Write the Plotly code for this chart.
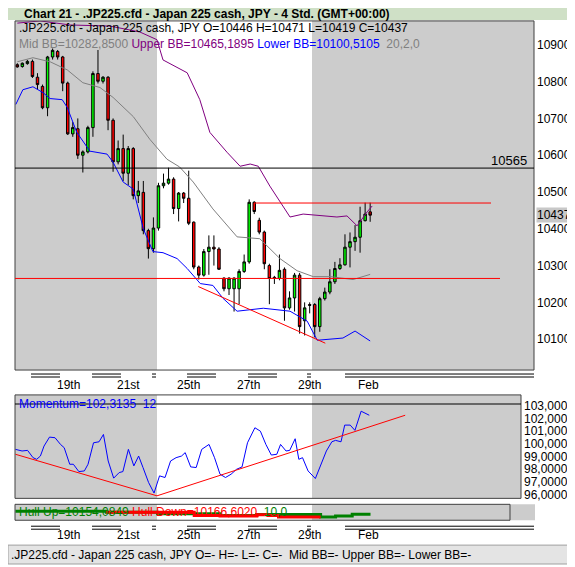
import plotly.graph_objects as go

W, H = 575, 567
OFF = 8  # page body margin
FW, FH = W - OFF, H - OFF
FONT = "Liberation Sans"

# ---------------- data ----------------
open_ = [10846,10841,10849,10855,10812,10787,10729,10867,10882,10867,10796,10658,10672,10600,10609,10675,10822,10801,10812,10695,
         10582,10618,10551,10618,10490,10499,10395,10346,10402,10517,10524,10535,10455,10497,10483,10418,10296,10274,10338,10350,
         10345,10266,10237,10237,10237,10284,10310,10472,10423,10391,10300,10268,10265,10290,10185,10212,10274,10150,10194,10194,
         10134,10210,10228,10256,10292,10302,10350,10365,10377,10422,10446]
high = [10850,10852,10859,10860,10823,10792,10870,10890,10886,10870,10800,10690,10700,10613,10680,10828,10886,10815,10815,10700,
        10640,10656,10625,10622,10530,10530,10400,10431,10525,10550,10566,10540,10500,10500,10558,10420,10300,10345,10382,10382,
        10350,10268,10268,10268,10290,10330,10480,10475,10430,10395,10305,10272,10330,10295,10230,10280,10280,10200,10200,10198,
        10215,10240,10290,10310,10320,10385,10390,10410,10460,10471,10471]
low = [10838,10838,10846,10810,10778,10725,10706,10860,10860,10774,10655,10650,10590,10553,10605,10650,10795,10795,10668,10555,
       10575,10530,10519,10480,10470,10385,10319,10335,10395,10510,10520,10440,10420,10470,10410,10290,10262,10270,10275,10300,
       10288,10230,10220,10175,10195,10280,10305,10440,10385,10290,10195,10250,10260,10150,10180,10175,10115,10110,10170,10105,
       10120,10205,10222,10250,10288,10300,10295,10340,10335,10420,10419]
close = [10840,10850,10855,10814,10792,10729,10867,10885,10867,10796,10658,10675,10600,10609,10675,10822,10801,10812,10695,10582,
         10618,10551,10618,10490,10503,10395,10346,10402,10517,10524,10535,10455,10497,10483,10415,10296,10274,10338,10350,10345,
         10290,10237,10266,10266,10284,10310,10472,10447,10391,10305,10265,10265,10287,10185,10212,10274,10134,10185,10192,10134,
         10210,10228,10256,10292,10302,10350,10365,10377,10422,10440,10437]
idx = list(range(len(close)))

upper_x = [0,4.5,10.5,18.4,24.3,27.7,28.9,33.7,36.2,38.2,41.6,44.2,46.2,47.8,50.1,52.1,54.1,56.7,63.4,65.4,67.4,69.4,70.4]
upper_y = [10959,10965,10954,10951,10935,10914,10859,10824,10751,10662,10608,10570,10576,10570,10516,10473,10432,10440,10432,10435,10408,10446,10462]
mid_x = [0,3.1,6.5,9.9,13,16.4,19,23,26.3,29.7,32.2,34.9,38.8,43.6,48.1,52.1,55.5,58.7,62.1,66.6,70]
mid_y = [10854,10865,10854,10832,10797,10784,10757,10705,10643,10589,10568,10527,10454,10378,10373,10319,10286,10270,10270,10262,10276]
lower_x = [-0.3,1.1,3.1,5.1,6.5,8.9,9.9,11.8,14.4,17.8,19,21,23,25,26.9,28.9,31.7,33.7,36.3,38.8,40.8,43.6,48.8,52.1,54.1,57.5,59.5,64.6,67,70]
lower_y = [10738,10778,10786,10770,10754,10751,10730,10662,10611,10603,10581,10527,10508,10400,10338,10335,10319,10292,10251,10246,10211,10176,10184,10178,10176,10149,10097,10103,10122,10095]

mom_x = [-0.37,0.94,2.03,3.12,3.84,4.58,5.30,6.39,7.48,8.57,9.30,10.40,11.12,12.21,13.30,14.03,15.12,16.22,17.09,18.03,19.12,20.21,20.95,
         22.04,23.12,24.07,24.94,26.04,27.13,28.22,29.31,30.41,31.50,32.58,33.31,34.40,35.49,36.59,38.04,39.13,40.22,41.31,42.41,43.50,
         44.59,45.67,47.14,48.23,49.32,50.40,51.49,52.23,53.32,54.05,55.13,55.86,56.59,57.69,59.14,60.23,61.32,62.41,63.14,64.23,64.96,
         66.05,66.99,68.22,69.83]
mom_y = [99.56,99.43,99.48,98.90,98.77,99.03,99.82,100.53,100.48,99.95,99.69,98.38,98.38,97.80,97.85,98.38,100.08,100.16,100.74,98.64,
         97.28,97.72,97.80,99.56,98.25,99.03,98.12,96.94,96.10,97.46,97.33,98.64,98.90,99.03,99.30,98.17,98.12,99.56,99.95,98.90,97.59,
         97.33,97.59,97.98,98.17,100.08,101.27,101.00,99.95,99.11,99.17,99.95,99.43,99.48,100.40,98.77,98.90,97.85,97.25,98.38,99.43,
         100.16,100.27,100.16,101.48,101.48,101.06,102.58,102.26]
mom_trend_x = [-0.37, 27.71, 76.96]
mom_trend_y = [99.17, 95.88, 102.26]

hull_up_x = [-0.37,17.67,27.84,40.22,47.53,60.18,63.15,66.45,70.08]
hull_up_y = [10176,10170,10160,10150,10156,10140,10146,10158,10158]
hull_dn_x = [17.67,35.1,40.22,47.53,49.73,51.82,60.18]
hull_dn_y = [10170,10150,10146,10154,10150,10140,10140]

res_level = 10565
support_level = 10265
top_level = 10470
last_close = 10437
trend_x = [35.9, 61.1]
trend_y = [10243, 10089]

price_ticks = [10100,10200,10300,10400,10500,10600,10700,10800,10900]
mom_ticks = [96,97,98,99,100,101,102,103]
date_pos = [10.1, 22.0, 34.0, 45.9, 58.0, 69.6]
date_lab = ["19th", "21st", "25th", "27th", "29th", "Feb"]

# ---------------- geometry helpers (screen pixels -> paper) ----------------
def px(x): return (x - OFF) / FW
def py(y): return 1 - (y - OFF) / FH

XMIN, XMAX = -0.46, 102.5
fig = go.Figure()

fig.add_trace(go.Candlestick(x=idx, open=open_, high=high, low=low, close=close,
    increasing=dict(fillcolor="#00ff00", line=dict(color="black", width=1)),
    decreasing=dict(fillcolor="#ff0000", line=dict(color="black", width=1)),
    whiskerwidth=0, xaxis="x", yaxis="y", showlegend=False, hoverinfo="skip"))
fig.add_trace(go.Scatter(x=upper_x, y=upper_y, mode="lines", line=dict(color="#800080", width=1), xaxis="x", yaxis="y"))
fig.add_trace(go.Scatter(x=mid_x, y=mid_y, mode="lines", line=dict(color="#808080", width=1), xaxis="x", yaxis="y"))
fig.add_trace(go.Scatter(x=lower_x, y=lower_y, mode="lines", line=dict(color="#0000ff", width=1), xaxis="x", yaxis="y"))
fig.add_trace(go.Scatter(x=trend_x, y=trend_y, mode="lines", line=dict(color="#ff0000", width=1), xaxis="x", yaxis="y"))

fig.add_trace(go.Scatter(x=mom_x, y=mom_y, mode="lines", line=dict(color="#0000ff", width=1), xaxis="x2", yaxis="y2"))
fig.add_trace(go.Scatter(x=mom_trend_x, y=mom_trend_y, mode="lines", line=dict(color="#ff0000", width=1), xaxis="x2", yaxis="y2"))

fig.add_trace(go.Scatter(x=hull_up_x, y=hull_up_y, mode="lines", line=dict(color="#008000", width=3, shape="hv"), xaxis="x3", yaxis="y3"))
fig.add_trace(go.Scatter(x=hull_dn_x, y=hull_dn_y, mode="lines", line=dict(color="#ff0000", width=3, shape="hv"), xaxis="x3", yaxis="y3"))

XD = [px(15), px(534)]
MXMAX = (521 - 17.3) / 5.04
HXMAX = (510 - 17.3) / 5.04
fig.update_layout(
    width=FW, height=FH, margin=dict(l=0, r=0, t=0, b=0),
    paper_bgcolor="white", plot_bgcolor="rgba(0,0,0,0)", showlegend=False,
    font=dict(family=FONT, size=12, color="black"),
    xaxis=dict(domain=XD, range=[XMIN, XMAX], showgrid=False, zeroline=False, showticklabels=False,
               rangeslider=dict(visible=False), anchor="y"),
    yaxis=dict(domain=[py(372), py(21)], range=[10016, 10965], side="right", showgrid=False, zeroline=False,
               tickvals=price_ticks, ticktext=[str(v) for v in price_ticks], ticks="", ticklabelstandoff=2,
               tickfont=dict(size=12, family=FONT), anchor="x"),
    xaxis2=dict(domain=[px(15), px(521)], range=[XMIN, MXMAX], showgrid=False, zeroline=False,
                showticklabels=False, anchor="y2"),
    yaxis2=dict(domain=[py(501), py(397)], range=[95.68, 103.87], side="right", showgrid=False, zeroline=False,
                tickvals=mom_ticks, ticktext=[f"{v},0000" for v in mom_ticks], ticks="", ticklabelstandoff=2,
                tickfont=dict(size=12, family=FONT), anchor="x2"),
    xaxis3=dict(domain=[px(15), px(510)], range=[XMIN, HXMAX], showgrid=False, zeroline=False,
                showticklabels=False, anchor="y3"),
    yaxis3=dict(domain=[py(523), py(507)], range=[10120, 10220], showgrid=False, zeroline=False,
                showticklabels=False, anchor="x3"),
)

shapes = []
shapes.append(dict(type="rect", xref="paper", yref="paper", x0=0, x1=1, y0=py(20), y1=1,
                   fillcolor="#cfe0c6", line=dict(width=0), layer="below"))
shapes.append(dict(type="rect", xref="paper", yref="paper", x0=0, x1=1, y0=0, y1=py(548),
                   fillcolor="#e4e4e4", line=dict(color="#a0a0a0", width=1), layer="below"))
def grey(x0, x1, y0, y1):
    shapes.append(dict(type="rect", xref="paper", yref="paper", x0=px(x0), x1=px(x1), y0=py(y1), y1=py(y0),
                       fillcolor="#cccccc", line=dict(width=0), layer="below"))
grey(15, 157, 21, 372); grey(312, 534, 21, 372)
grey(15, 157, 397, 501); grey(312, 521, 397, 501)
grey(15, 157, 507, 523); grey(312, 535, 507, 523)
for (x0, y0, x1, y1) in [(15, 21, 534, 372), (15, 397, 521, 501), (15, 507, 510, 523)]:
    shapes.append(dict(type="rect", xref="paper", yref="paper", x0=px(x0), x1=px(x1), y0=py(y1), y1=py(y0),
                       line=dict(color="#404040", width=1)))
shapes.append(dict(type="line", xref="paper", yref="y", x0=px(15), x1=px(534), y0=res_level, y1=res_level,
                   line=dict(color="black", width=1)))
shapes.append(dict(type="line", xref="paper", yref="y", x0=px(15), x1=px(500), y0=support_level, y1=support_level,
                   line=dict(color="#ff0000", width=1)))
shapes.append(dict(type="line", xref="paper", yref="y", x0=px(254), x1=px(491), y0=top_level, y1=top_level,
                   line=dict(color="#ff0000", width=1)))
shapes.append(dict(type="line", xref="paper", yref="y2", x0=px(15), x1=px(521), y0=103.15, y1=103.15,
                   line=dict(color="black", width=1)))
for ya in (376, 379, 529, 532):
    for (a, b) in [(31, 60), (92, 121), (152, 156), (187, 216), (248, 277), (307, 311), (345, 534)]:
        shapes.append(dict(type="line", xref="paper", yref="paper", x0=px(a), x1=px(b), y0=py(ya), y1=py(ya),
                           line=dict(color="black", width=1)))
fig.update_layout(shapes=shapes)

ann = []
def text(x, y, t, size=12, color="black", anchor="left", bold=False, xref="paper", yref="paper", bg=None):
    a = dict(xref=xref, yref=yref, x=x if xref != "paper" else px(x), y=y if yref != "paper" else py(y),
             text=f"<b>{t}</b>" if bold else t, showarrow=False, xanchor=anchor, yanchor="middle",
             font=dict(size=size, color=color, family=FONT))
    if bg:
        a["bgcolor"] = bg
        a["borderpad"] = 0
    ann.append(a)
text(22, 14, "Chart 21 - .JP225.cfd - Japan 225 cash, JPY - 4 Std. (GMT+00:00)", size=12, bold=True)
text(17, 28, ".JP225.cfd - Japan 225 cash, JPY O=10446 H=10471 L=10419 C=10437", size=12)
text(17, 44, "<span style='color:#808080'>Mid BB=10282,8500 </span><span style='color:#800080'>Upper BB=10465,1895 </span>"
             "<span style='color:#0000ff'>Lower BB=10100,5105 </span><span style='color:#808080'> 20,2,0</span>", size=12)
text(529, 161, "10565", size=13, anchor="right")
text(536, last_close, str(last_close), size=12, yref="y", bg="#c8c8c8")
text(17, 406, "Momentum=102,3135  12", size=12, color="#0000ff")
text(17, 515, "<span style='color:#008000'>Hull Up=10154,0849 </span><span style='color:#ff0000'>Hull Down=10166,6020 </span>"
              "<span style='color:#008000'> 10,0</span>", size=12)
text(9, 558, ".JP225.cfd - Japan 225 cash, JPY O=- H=- L=- C=-  Mid BB=- Upper BB=- Lower BB=-", size=12)
for p, l in zip(date_pos, date_lab):
    text(p, 387, l, size=12, anchor="center", xref="x")
for p, l in zip(date_pos, date_lab):
    text(p, 538, l, size=12, anchor="center", xref="x")
fig.update_layout(annotations=ann)

fig.write_html("out.html")
